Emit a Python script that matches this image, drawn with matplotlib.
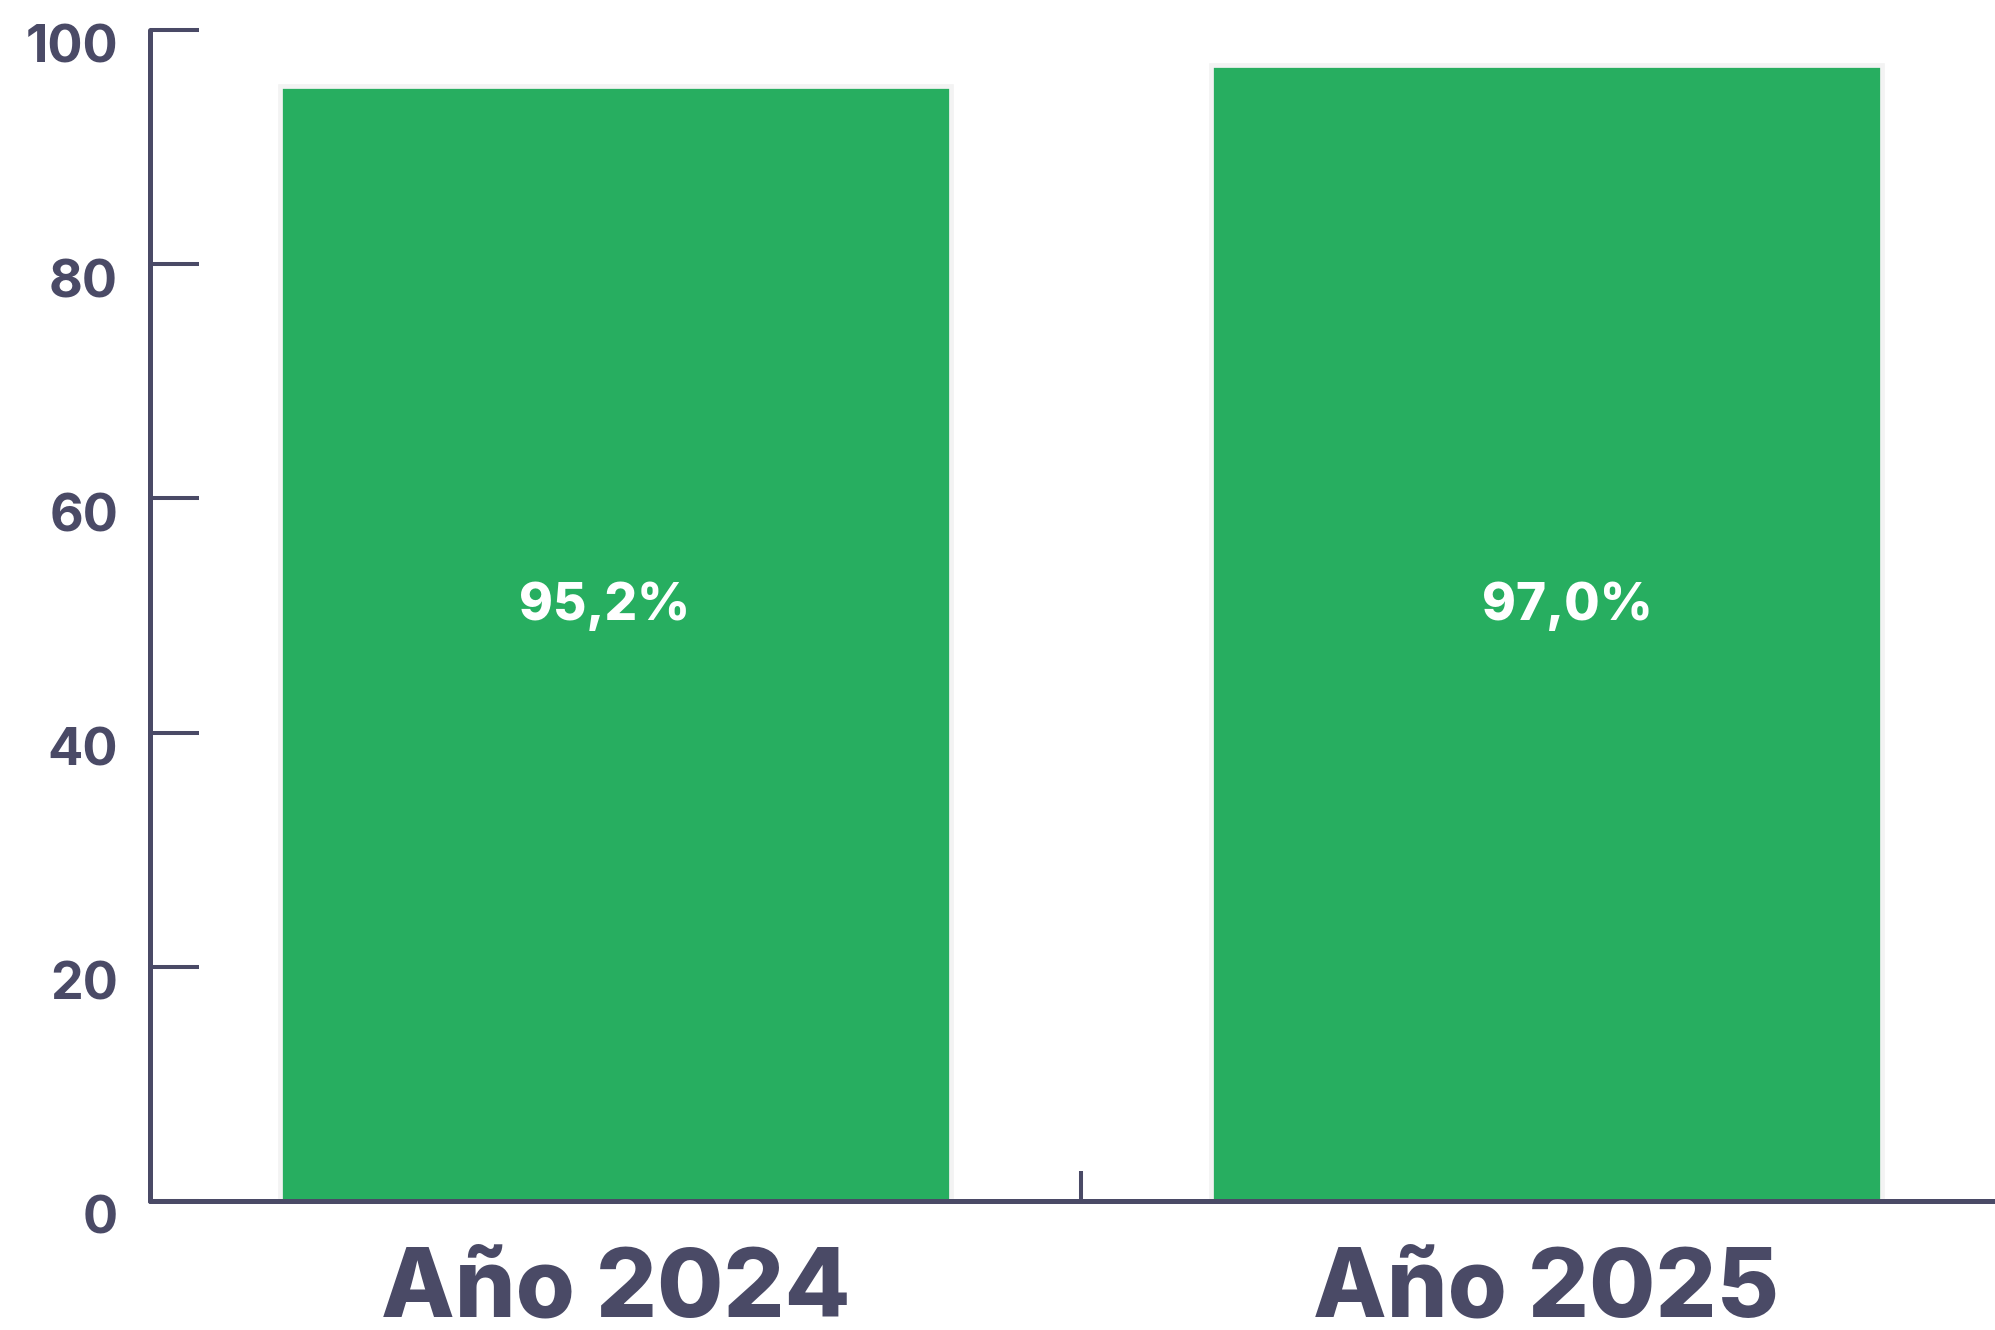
import matplotlib
matplotlib.use("Agg")
import matplotlib.pyplot as plt
import matplotlib.transforms as mtransforms

# datos
categorias = ["Año 2024", "Año 2025"]
valores = [95.2, 97.0]
etiquetas = ["95,2%", "97,0%"]
yticks = [0, 20, 40, 60, 80, 100]

verde = "#27ae60"
tinta = "#4a4a66"

plt.rcParams["font.family"] = ["Inter", "DejaVu Sans"]

fig = plt.figure(figsize=(19.95, 13.3), dpi=100)
# el eje x sigue un poco mas alla del borde derecho
ax = fig.add_axes([150 / 1995, 129 / 1330, 1862 / 1995, 1171 / 1330])

x = list(range(len(categorias)))
ax.bar(x, valores, width=0.72, color=verde, edgecolor="#f3f3f3", linewidth=3.4, zorder=2)

# etiquetas dentro de las barras (a altura fija)
desplaz = [-0.012, 0.022]
for xi, et, dx in zip(x, etiquetas, desplaz):
    ax.text(xi + dx, 49.6, et, ha="center", va="baseline", color="white",
            fontsize=37, fontweight="heavy", zorder=3)

ax.set_xlim(-0.5, 1.5)
ax.set_ylim(0, 100)

for s in ["top", "right"]:
    ax.spines[s].set_visible(False)
for s in ["left", "bottom"]:
    ax.spines[s].set_color(tinta)
    ax.spines[s].set_linewidth(3.6)
    ax.spines[s].set_capstyle("round")

ax.set_yticks(yticks)
ax.set_yticklabels([str(v) for v in yticks])
ax.tick_params(axis="y", direction="in", length=35, width=2.9, color=tinta,
               labelcolor=tinta, labelsize=37.5, pad=23)
for lab in ax.get_yticklabels():
    lab.set_fontweight("bold")
    lab.set_transform(lab.get_transform() + mtransforms.ScaledTranslation(0, -10 / 72, fig.dpi_scale_trans))
for t in ax.yaxis.get_major_ticks():
    t.tick1line.set_solid_capstyle("round")

ax.set_xticks(x)
ax.set_xticklabels(categorias)
ax.tick_params(axis="x", which="major", length=0, labelcolor=tinta, labelsize=69, pad=33)
for lab in ax.get_xticklabels():
    lab.set_fontweight("heavy")
ax.set_xticks([0.5], minor=True)
ax.tick_params(axis="x", which="minor", direction="in", length=21.6, width=2.9, color=tinta)

fig.savefig("out.png", dpi=100, facecolor="white")
